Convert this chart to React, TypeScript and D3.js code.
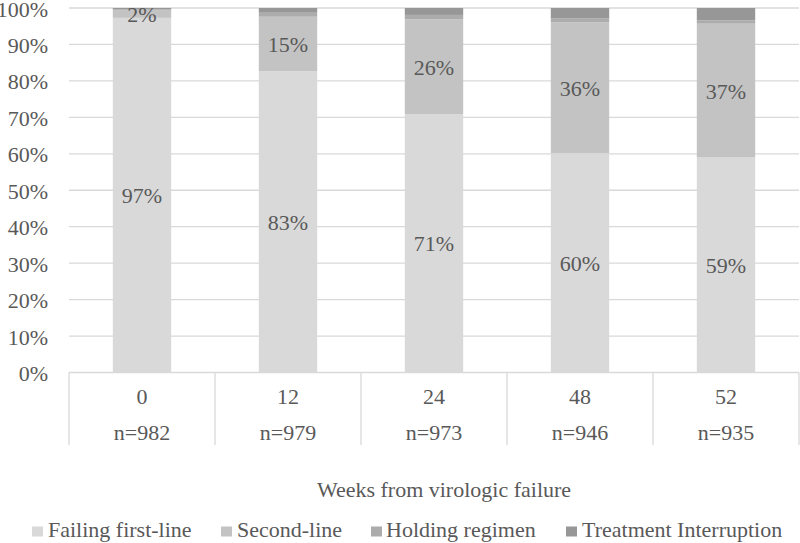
import React from "react";
import * as d3 from "d3";

const weeks = ["0", "12", "24", "48", "52"];
const counts = ["n=982", "n=979", "n=973", "n=946", "n=935"];
const seriesNames = ["Failing first-line", "Second-line", "Holding regimen", "Treatment Interruption"];
const failingFirstLine = [0.973, 0.827, 0.709, 0.602, 0.590];
const secondLine = [0.020, 0.149, 0.260, 0.359, 0.367];
const holdingRegimen = [0.003, 0.011, 0.012, 0.010, 0.009];
const treatmentInterruption = [0.004, 0.013, 0.019, 0.029, 0.034];
const yTicks = [0, 0.1, 0.2, 0.3, 0.4, 0.5, 0.6, 0.7, 0.8, 0.9, 1.0];
const colors = ["#d9d9d9", "#c3c3c3", "#acacac", "#979797"];
const labeledSeries = [0, 1];

const W = 800, H = 543;
const TXT = "#595959";
const FS = 22;
const ts = { fontFamily: "Liberation Serif" };

export default function App() {
  const left = 69, right = 799, top = 8, bottom = 372.5;
  const x = d3.scaleBand<string>().domain(weeks).range([left, right]).paddingInner(0.6).paddingOuter(0.3);
  const y = d3.scaleLinear().domain([0, 1]).range([bottom, top]);
  const rows = weeks.map((w, i) => ({
    week: w,
    s0: failingFirstLine[i],
    s1: secondLine[i],
    s2: holdingRegimen[i],
    s3: treatmentInterruption[i],
  }));
  const stack = d3.stack<any>().keys(["s0", "s1", "s2", "s3"]);
  const layers = stack(rows);
  const fmt = d3.format(".0%");
  const step = x.step();
  const catEdges = weeks.map((w) => (x(w) as number) + x.bandwidth() / 2 - step / 2);
  catEdges.push(right);

  const legendItems = [
    { sq: 32, tx: 48 },
    { sq: 221, tx: 237 },
    { sq: 371, tx: 386 },
    { sq: 566, tx: 582 },
  ];

  return (
    <svg width={W} height={H} style={{ position: "absolute", left: 0, top: 0, background: "#fff" }}>
      {yTicks.map((t) => (
        <g key={t}>
          <line x1={left} x2={right} y1={y(t)} y2={y(t)} stroke="#d9d9d9" strokeWidth={1.3} />
          <text x={48} y={y(t) + 8.5} textAnchor="end" fontSize={FS} fill={TXT} style={ts}>
            {fmt(t)}
          </text>
        </g>
      ))}
      {layers.map((layer, li) => (
        <g key={li}>
          {layer.map((d, i) => (
            <rect
              key={i}
              x={x(weeks[i])}
              width={x.bandwidth()}
              y={y(d[1])}
              height={y(d[0]) - y(d[1])}
              fill={colors[li]}
            />
          ))}
        </g>
      ))}
      {layers.map((layer, li) =>
        labeledSeries.includes(li)
          ? layer.map((d, i) => (
              <text
                key={`${li}-${i}`}
                x={(x(weeks[i]) as number) + x.bandwidth() / 2}
                y={(y(d[0]) + y(d[1])) / 2 + 8}
                textAnchor="middle"
                fontSize={FS}
                fill={TXT}
                style={ts}
              >
                {fmt(d[1] - d[0])}
              </text>
            ))
          : null
      )}
      {catEdges.map((e, i) => (
        <line key={i} x1={e} x2={e} y1={bottom} y2={445} stroke="#d9d9d9" strokeWidth={1.3} />
      ))}
      {weeks.map((w, i) => (
        <g key={w}>
          <text x={(x(w) as number) + x.bandwidth() / 2} y={404} textAnchor="middle" fontSize={FS} fill={TXT} style={ts}>
            {w}
          </text>
          <text x={(x(w) as number) + x.bandwidth() / 2} y={440} textAnchor="middle" fontSize={FS} fill={TXT} style={ts}>
            {counts[i]}
          </text>
        </g>
      ))}
      <text x={(left + right) / 2 + 10} y={497} textAnchor="middle" fontSize={FS} fill={TXT} style={ts}>
        Weeks from virologic failure
      </text>
      {seriesNames.map((n, i) => (
        <g key={n}>
          <rect x={legendItems[i].sq} y={526.5} width={11} height={10} fill={colors[i]} />
          <text x={legendItems[i].tx} y={536.5} fontSize={FS} fill={TXT} style={ts}>
            {n}
          </text>
        </g>
      ))}
    </svg>
  );
}
